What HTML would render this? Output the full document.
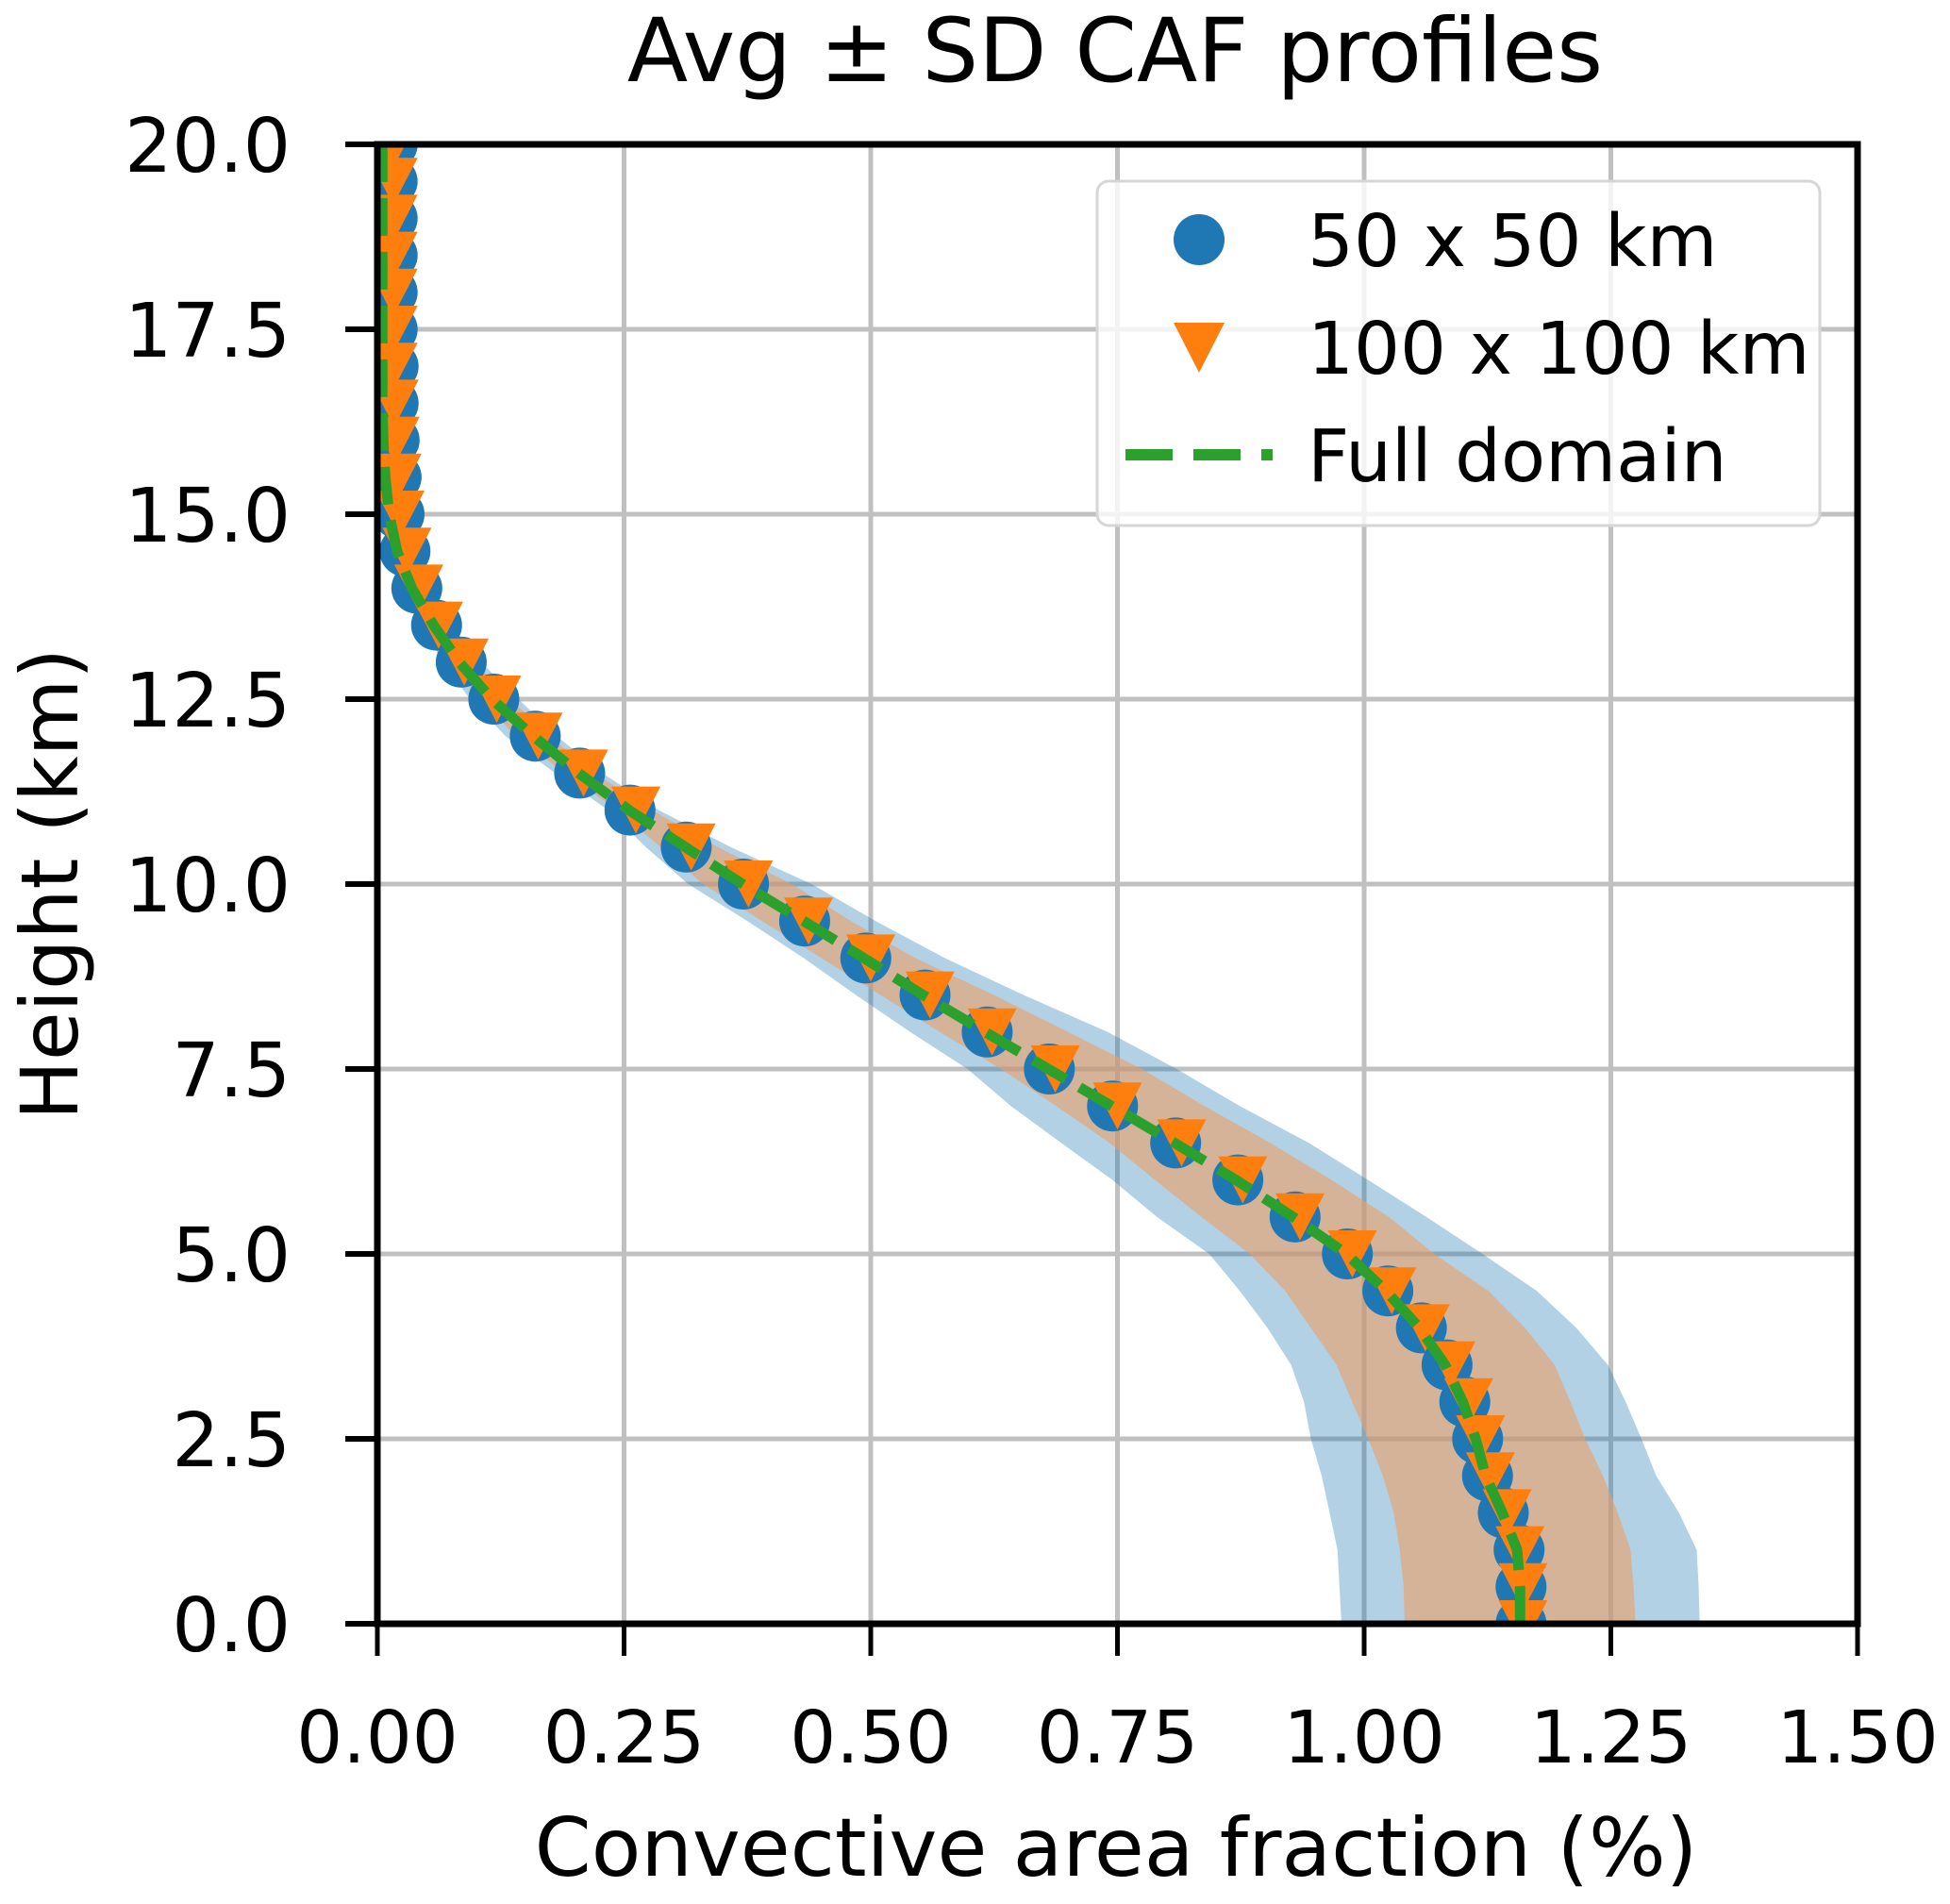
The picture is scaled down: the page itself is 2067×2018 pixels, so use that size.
<!DOCTYPE html>
<html><head><meta charset="utf-8"><style>
html,body{margin:0;padding:0;background:#fff}
svg{display:block}
text{font-family:"DejaVu Sans","Liberation Sans",sans-serif;fill:#000}
</style></head><body>
<svg id="chart" width="2067" height="2018" viewBox="0 0 2067 2018" xmlns="http://www.w3.org/2000/svg">
<defs><clipPath id="plotclip"><rect x="400" y="153" width="1569" height="1568"/></clipPath></defs>
<text x="1182" y="86" font-size="94" text-anchor="middle">Avg ± SD CAF profiles</text>
<g id="grid"></g>
<g id="bands" clip-path="url(#plotclip)"></g>
<g id="marks" clip-path="url(#plotclip)"></g>
<g id="axes"></g>
<text x="1183" y="1988" font-size="86" text-anchor="middle">Convective area fraction (%)</text>
<text transform="translate(82,937) rotate(-90)" font-size="84" text-anchor="middle">Height (km)</text>
<g>
<rect x="1163" y="192" width="766" height="365" rx="12" fill="#fff" fill-opacity="0.8" stroke="#d6d6d6" stroke-width="3"/>
<circle cx="1271" cy="254" r="27" fill="#1f77b4"/>
<text x="1386" y="282" font-size="77">50 x 50 km</text>
<polygon points="1244,342 1298,342 1271,395" fill="#ff7f0e"/>
<text x="1386" y="396" font-size="77">100 x 100 km</text>
<line x1="1193" y1="482" x2="1349" y2="482" stroke="#2ca02c" stroke-width="12" stroke-dasharray="50 22"/>
<text x="1386" y="510" font-size="77">Full domain</text>
</g>
</svg>
<script>
const xTicks = [0, 0.25, 0.5, 0.75, 1.0, 1.25, 1.5];
const xTickLabels = ["0.00","0.25","0.50","0.75","1.00","1.25","1.50"];
const yTicks = [0, 2.5, 5, 7.5, 10, 12.5, 15, 17.5, 20];
const yTickLabels = ["0.0","2.5","5.0","7.5","10.0","12.5","15.0","17.5","20.0"];
const heights = [0,0.5,1,1.5,2,2.5,3,3.5,4,4.5,5,5.5,6,6.5,7,7.5,8,8.5,9,9.5,10,10.5,11,11.5,12,12.5,13,13.5,14,14.5,15,15.5,16,16.5,17,17.5,18,18.5,19,19.5,20];
const mean50 = [1.159,1.159,1.157,1.141,1.125,1.115,1.102,1.084,1.058,1.024,0.983,0.930,0.872,0.809,0.745,0.681,0.618,0.555,0.495,0.433,0.371,0.313,0.256,0.205,0.16,0.118,0.085,0.06,0.04,0.028,0.022,0.019,0.017,0.016,0.016,0.015,0.015,0.015,0.015,0.015,0.015];
const mean100 = [1.161,1.161,1.158,1.145,1.128,1.118,1.106,1.088,1.062,1.028,0.988,0.935,0.877,0.815,0.75,0.687,0.623,0.56,0.5,0.437,0.376,0.318,0.262,0.209,0.163,0.121,0.088,0.062,0.042,0.03,0.023,0.02,0.018,0.017,0.016,0.016,0.016,0.016,0.016,0.016,0.016];
const meanFull = [1.158,1.158,1.155,1.14,1.123,1.113,1.1,1.082,1.056,1.022,0.982,0.928,0.87,0.808,0.744,0.68,0.616,0.553,0.493,0.432,0.37,0.312,0.255,0.204,0.158,0.116,0.083,0.057,0.035,0.02,0.012,0.008,0.006,0.005,0.005,0.005,0.005,0.005,0.005,0.005,0.005];
const bandHeights = [0,0.5,1,1.5,2,2.5,3,3.5,4,4.5,5,5.5,6,6.5,7,7.5,8,8.5,9,9.5,10,10.5,11,11.5,12,12.5,13,13.5,14,14.5,15,16,17,18,19,20];
const sd50Lo = [0.977,0.975,0.973,0.965,0.957,0.946,0.939,0.926,0.902,0.874,0.843,0.79,0.745,0.693,0.642,0.598,0.54,0.485,0.432,0.375,0.315,0.272,0.234,0.18,0.13,0.094,0.066,0.045,0.028,0.018,0.011,0.007,0.005,0.005,0.005,0.005];
const sd50Hi = [1.34,1.339,1.337,1.319,1.296,1.281,1.265,1.247,1.215,1.175,1.12,1.063,1.004,0.944,0.874,0.81,0.74,0.655,0.575,0.505,0.44,0.358,0.285,0.228,0.182,0.143,0.105,0.075,0.052,0.036,0.028,0.022,0.02,0.02,0.019,0.019];
const sd100Lo = [1.041,1.04,1.036,1.03,1.019,1.004,0.988,0.972,0.946,0.92,0.884,0.835,0.788,0.742,0.688,0.632,0.57,0.51,0.45,0.39,0.33,0.287,0.243,0.19,0.14,0.105,0.072,0.05,0.032,0.021,0.014,0.009,0.007,0.006,0.006,0.006];
const sd100Hi = [1.275,1.273,1.27,1.257,1.242,1.224,1.209,1.193,1.163,1.126,1.071,1.025,0.967,0.905,0.838,0.775,0.70,0.625,0.545,0.48,0.42,0.345,0.278,0.22,0.174,0.135,0.098,0.07,0.048,0.033,0.025,0.02,0.018,0.018,0.017,0.017];

const NS = "http://www.w3.org/2000/svg";
const X0 = 400, X1 = 1969, Y0 = 1721, Y1 = 153;
const xs = v => X0 + (v - 0) / 1.5 * (X1 - X0);
const ys = v => Y0 - (v - 0) / 20 * (Y0 - Y1);
function mk(tag, attrs, parent){ const e = document.createElementNS(NS, tag); for (const k in attrs) e.setAttribute(k, attrs[k]); parent.appendChild(e); return e; }

const grid = document.getElementById('grid');
const axes = document.getElementById('axes');
xTicks.forEach((t, i) => {
  const gl = mk('line', {x1: xs(t), x2: xs(t), y1: Y1, y2: Y0, stroke: '#c0c0c0', 'stroke-width': 5}, grid);
  
  
  const tk = mk('line', {x1: xs(t), x2: xs(t), y1: Y0, y2: Y0 + 34, stroke: '#000', 'stroke-width': 5}, axes);
  
  
  const tl = mk('text', {x: xs(t), y: 1868, 'font-size': 77, 'text-anchor': 'middle'}, axes);
  tl.textContent = xTickLabels[i];
  
  
});
yTicks.forEach((t, i) => {
  const gl = mk('line', {x1: X0, x2: X1, y1: ys(t), y2: ys(t), stroke: '#c0c0c0', 'stroke-width': 5}, grid);
  
  
  const tk = mk('line', {x1: X0 - 34, x2: X0, y1: ys(t), y2: ys(t), stroke: '#000', 'stroke-width': 6}, axes);
  
  
  const tl = mk('text', {x: 308, y: ys(t) + 29, 'font-size': 79, 'text-anchor': 'end'}, axes);
  tl.textContent = yTickLabels[i];
  
  
});
const frame = mk('rect', {x: X0, y: Y1, width: X1 - X0, height: Y0 - Y1, fill: 'none', stroke: '#000', 'stroke-width': 7}, axes);



const bands = document.getElementById('bands');
function bandPath(lo, hi){
  let d = '';
  bandHeights.forEach((h, i) => { d += (i ? 'L' : 'M') + xs(lo[i]) + ',' + ys(h); });
  for (let i = bandHeights.length - 1; i >= 0; i--) d += 'L' + xs(hi[i]) + ',' + ys(bandHeights[i]);
  return d + 'Z';
}
const b1 = mk('path', {d: bandPath(sd50Lo, sd50Hi), fill: '#1f77b4', 'fill-opacity': 0.34}, bands);


const b2 = mk('path', {d: bandPath(sd100Lo, sd100Hi), fill: '#e8a06a', 'fill-opacity': 0.62}, bands);



const marks = document.getElementById('marks');
heights.forEach((h, i) => {
  const c = mk('circle', {cx: xs(mean50[i]), cy: ys(h), r: 27, fill: '#1f77b4'}, marks);
  
  
});
heights.forEach((h, i) => {
  const x = xs(mean100[i]), y = ys(h);
  const p = mk('polygon', {points: (x-26)+','+(y-25)+' '+(x+26)+','+(y-25)+' '+x+','+(y+25), fill: '#ff7f0e'}, marks);
  
  
});
const line = mk('polyline', {points: heights.map((h, i) => xs(meanFull[i]) + ',' + ys(h)).join(' '), fill: 'none', stroke: '#2ca02c', 'stroke-width': 11, 'stroke-dasharray': '40 17'}, marks);


</script>
</body></html>
